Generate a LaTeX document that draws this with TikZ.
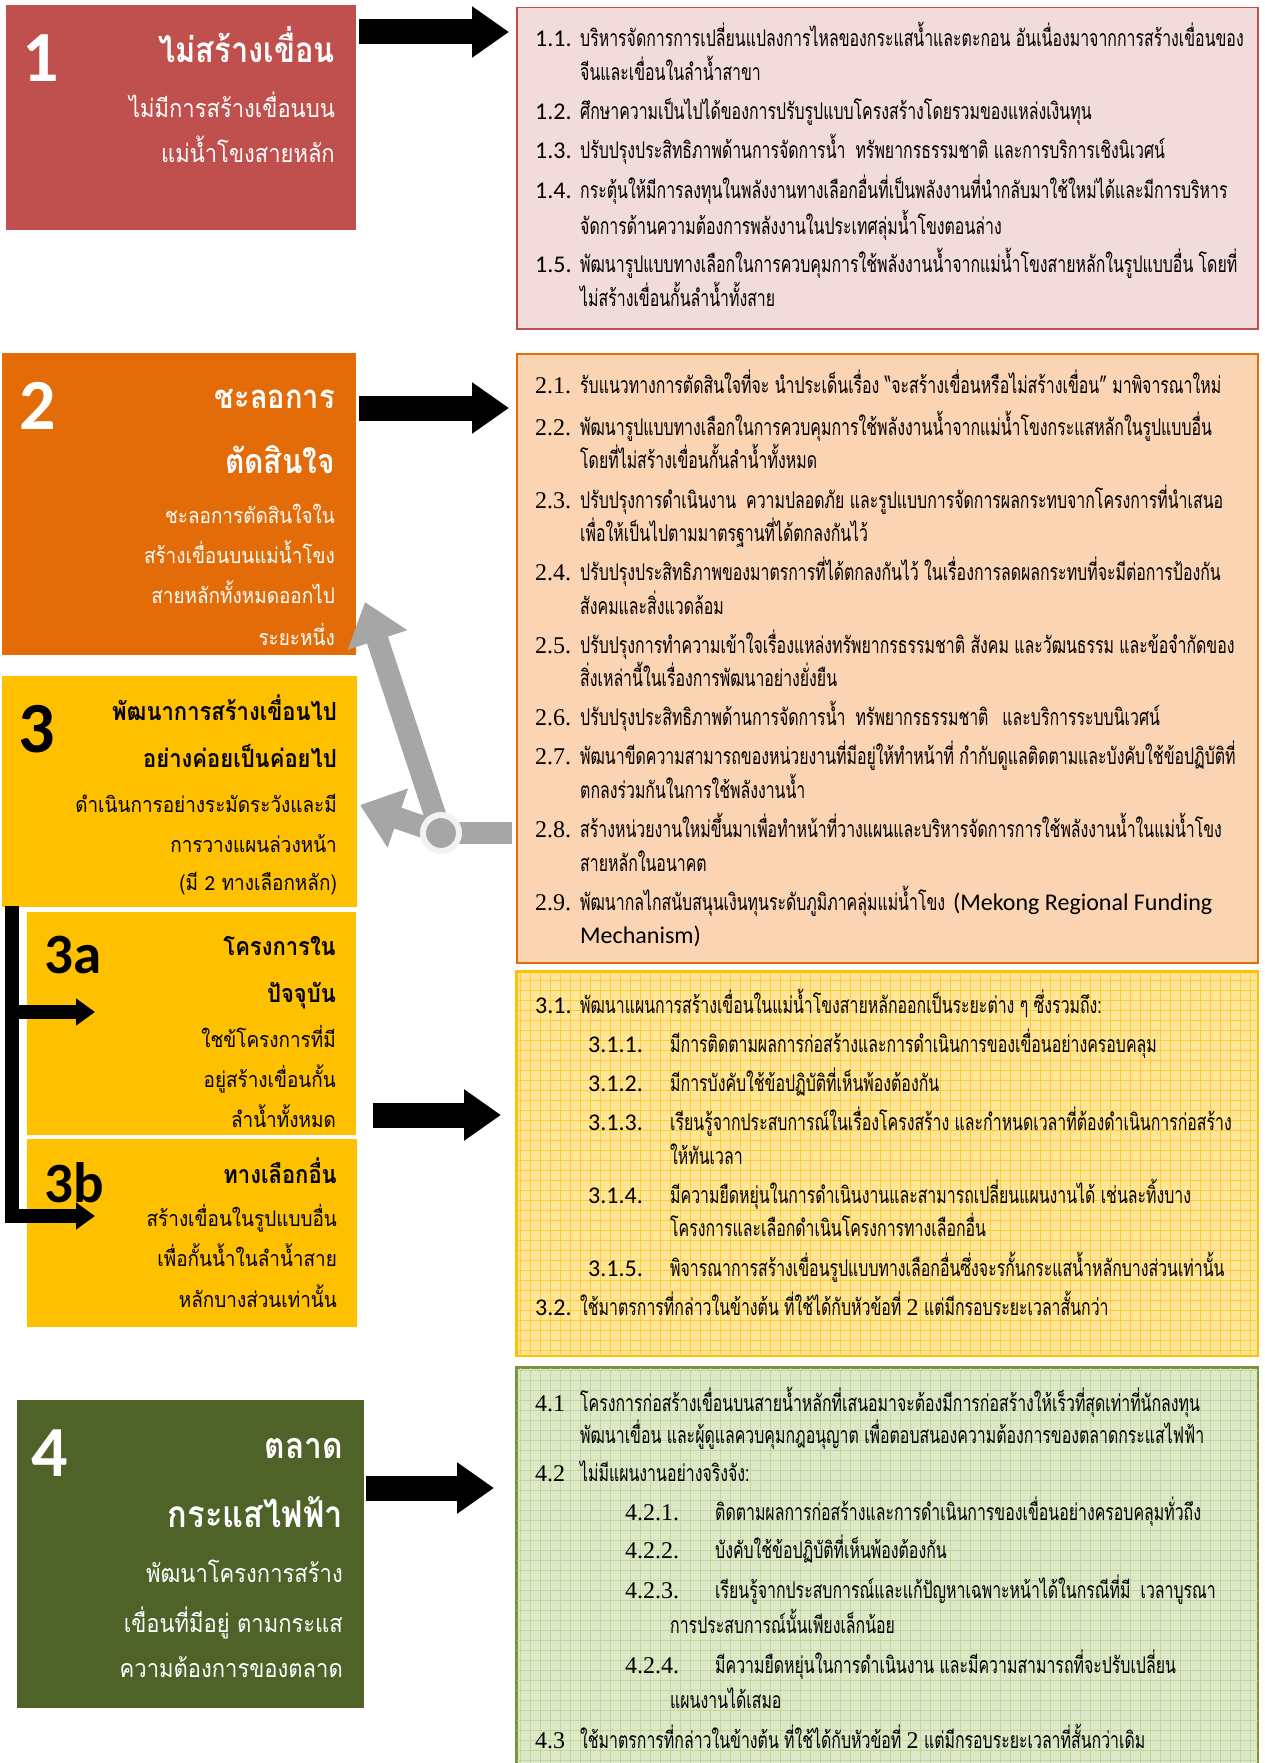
\documentclass[tikz,border=0pt]{standalone}
\usepackage{fontspec}
\usetikzlibrary{arrows.meta}
\newfontfamily\thaiP[Script=Thai,FakeStretch=0.69]{Loma}
\newfontfamily\thaiL[Script=Thai,FakeStretch=0.88]{Loma}
\newfontfamily\calf{Carlito}
\newfontfamily\tmsf{Liberation Serif}
\definecolor{cRed}{HTML}{C0504D}
\definecolor{cRedF}{HTML}{F2DCDB}
\definecolor{cOr}{HTML}{E36C09}
\definecolor{cOrF}{HTML}{FBD4B4}
\definecolor{cYel}{HTML}{FFC000}
\definecolor{cYelF}{HTML}{FFE597}
\definecolor{cYelG}{HTML}{FFCC33}
\definecolor{cGrn}{HTML}{4F6228}
\definecolor{cGrnB}{HTML}{77933C}
\definecolor{cGrnF}{HTML}{DDE8C9}
\definecolor{cGrnG}{HTML}{C2D69A}
\definecolor{cGray}{HTML}{A6A6A6}
\definecolor{cRing}{HTML}{F2F2F2}
\newcounter{lnc}
\newcommand\PLine[4]{\stepcounter{lnc}\node[#1] (t\number\value{lnc}) at (#2,#3) {#4};}
\tikzset{
  lbox/.style={anchor=north west, inner sep=0, draw=none},
  panel/.style={anchor=north west, inner sep=0, line width=1.5pt},
  ptx/.style={inner sep=0, anchor=base west, font=\thaiP\fontsize{23}{26}\selectfont},
  pnc/.style={inner sep=0, anchor=base west, font=\calf\fontsize{24}{26}\selectfont},
  pnt/.style={inner sep=0, anchor=base west, font=\tmsf\fontsize{24}{26}\selectfont},
  bignum/.style={inner sep=0, anchor=base west, font=\calf\bfseries\fontsize{72}{72}\selectfont},
  midnum/.style={inner sep=0, anchor=base west, font=\calf\bfseries\fontsize{57}{57}\selectfont},
  ltitle/.style={inner sep=0, anchor=base east, font=\thaiL\bfseries\fontsize{#1}{#1}\selectfont},
  ltitles/.style={inner sep=0, anchor=base east, font=\thaiL\bfseries\fontsize{25}{28}\selectfont},
  lbody/.style={inner sep=0, anchor=base east, font=\thaiL\fontsize{25}{28}\selectfont},
  lbodys/.style={inner sep=0, anchor=base east, font=\thaiL\fontsize{21.5}{24}\selectfont},
  blk/.style={line width=25pt, black, -{Triangle[length=37pt,width=49pt]}},
  blks/.style={line width=14pt, black, line join=miter, -{Triangle[length=19pt,width=26pt]}},
  garrow/.style={line width=22pt, cGray, -{Triangle[length=40pt,width=60pt]}}
}
\begin{document}
\begin{tikzpicture}[x=1pt,y=-1pt]
\useasboundingbox (0,0) rectangle (1265,1763);
\fill[white] (0,0) rectangle (1265,1763);

% ---------- right panels ----------
\node[panel, draw=cRed, fill=cRedF, minimum width=741pt, minimum height=321pt] (p1) at (516,7) {};
\node[panel, draw=cOr, fill=cOrF, minimum width=741pt, minimum height=609pt] (p2) at (516,353) {};
\node[panel, draw=cYel, fill=cYelF, minimum width=741pt, minimum height=384pt] (p3) at (516,971) {};
\node[panel, draw=cGrnB, fill=cGrnF, minimum width=741pt, minimum height=420pt] (p4) at (516,1367) {};
\begin{scope}
  \clip (p3.north west) rectangle (p3.south east);
  \draw[cYelG, line width=0.6pt, step=10pt] (p3.north west) grid (p3.south east);
\end{scope}
\draw[cYel, line width=1.5pt] (p3.north west) rectangle (p3.south east);
\begin{scope}
  \clip (p4.north west) rectangle (p4.south east);
  \draw[cGrnG, line width=0.6pt, step=10pt] (p4.north west) grid (p4.south east);
\end{scope}
\draw[cGrnB, line width=1.5pt] (p4.north west) rectangle (p4.south east);

% ---------- left boxes ----------
\node[lbox, fill=cRed, minimum width=350pt, minimum height=225pt] (b1) at (6,5) {};
\node[lbox, fill=cOr, minimum width=354pt, minimum height=302pt] (b2) at (2,353) {};
\node[lbox, fill=cYel, minimum width=355pt, minimum height=231pt] (b3) at (2,676) {};
\node[lbox, fill=cYel, minimum width=329pt, minimum height=223pt] (b3a) at (27,912) {};
\node[lbox, fill=cYel, minimum width=330pt, minimum height=188pt] (b3b) at (27,1139) {};
\node[lbox, fill=cGrn, minimum width=347pt, minimum height=308pt] (b4) at (17,1400) {};

% box 1
\PLine{bignum, white}{22}{82}{1}
\PLine{ltitle=35, white}{335}{63}{ไม่สร้างเขื่อน}
\PLine{lbody, white}{335}{118}{ไม่มีการสร้างเขื่อนบน}
\PLine{lbody, white}{335}{163}{แม่น้ำโขงสายหลัก}
% box 2
\PLine{bignum, white}{19}{429}{2}
\PLine{ltitle=33, white}{335}{408}{ชะลอการ}
\PLine{ltitle=34, white}{335}{473}{ตัดสินใจ}
\PLine{lbodys, white}{335}{523}{ชะลอการตัดสินใจใน}
\PLine{lbodys, white}{335}{563}{สร้างเขื่อนบนแม่น้ำโขง}
\PLine{lbodys, white}{335}{603}{สายหลักทั้งหมดออกไป}
\PLine{lbodys, white}{335}{645}{ระยะหนึ่ง}
% box 3
\PLine{bignum}{18}{752}{3}
\PLine{ltitles}{337}{720}{พัฒนาการสร้างเขื่อนไป}
\PLine{ltitles}{337}{767}{อย่างค่อยเป็นค่อยไป}
\PLine{lbodys}{337}{812}{ดำเนินการอย่างระมัดระวังและมี}
\PLine{lbodys}{337}{852}{การวางแผนล่วงหน้า}
\PLine{lbodys}{337}{890}{(มี {\calf 2} ทางเลือกหลัก)}
% box 3a
\PLine{midnum}{44}{973}{3a}
\PLine{ltitles}{336}{955}{โครงการใน}
\PLine{ltitles}{336}{1002}{ปัจจุบัน}
\PLine{lbodys}{336}{1047}{ใชข้โครงการที่มี}
\PLine{lbodys}{336}{1087}{อยู่สร้างเขื่อนกั้น}
\PLine{lbodys}{336}{1127}{ลำน้ำทั้งหมด}
% box 3b
\PLine{midnum}{44}{1202}{3b}
\PLine{ltitles}{337}{1183}{ทางเลือกอื่น}
\PLine{lbodys}{337}{1226}{สร้างเขื่อนในรูปแบบอื่น}
\PLine{lbodys}{337}{1266}{เพื่อกั้นน้ำในลำน้ำสาย}
\PLine{lbodys}{337}{1307}{หลักบางส่วนเท่านั้น}
% box 4
\PLine{bignum, white}{31}{1476}{4}
\PLine{ltitle=36, white}{343}{1458}{ตลาด}
\PLine{ltitle=37, white}{343}{1527}{กระแสไฟฟ้า}
\PLine{lbody, white}{343}{1582}{พัฒนาโครงการสร้าง}
\PLine{lbody, white}{343}{1632}{เขื่อนที่มีอยู่ ตามกระแส}
\PLine{lbody, white}{343}{1677}{ความต้องการของตลาด}

% ---------- panel 1 ----------
\PLine{pnc}{535}{47}{1.1.}
\PLine{ptx}{580}{47}{บริหารจัดการการเปลี่ยนแปลงการไหลของกระแสน้ำและตะกอน อันเนื่องมาจากการสร้างเขื่อนของ}
\PLine{ptx}{580}{81}{จีนและเขื่อนในลำน้ำสาขา}
\PLine{pnc}{535}{120}{1.2.}
\PLine{ptx}{580}{120}{ศึกษาความเป็นไปได้ของการปรับรูปแบบโครงสร้างโดยรวมของแหล่งเงินทุน}
\PLine{pnc}{535}{159}{1.3.}
\PLine{ptx}{580}{159}{ปรับปรุงประสิทธิภาพด้านการจัดการน้ำ\hspace{10pt}ทรัพยากรธรรมชาติ และการบริการเชิงนิเวศน์}
\PLine{pnc}{535}{199}{1.4.}
\PLine{ptx}{580}{199}{กระตุ้นให้มีการลงทุนในพลังงานทางเลือกอื่นที่เป็นพลังงานที่นำกลับมาใช้ใหม่ได้และมีการบริหาร}
\PLine{ptx}{580}{234}{จัดการด้านความต้องการพลังงานในประเทศลุ่มน้ำโขงตอนล่าง}
\PLine{pnc}{535}{272}{1.5.}
\PLine{ptx}{580}{272}{พัฒนารูปแบบทางเลือกในการควบคุมการใช้พลังงานน้ำจากแม่น้ำโขงสายหลักในรูปแบบอื่น โดยที่}
\PLine{ptx}{580}{306}{ไม่สร้างเขื่อนกั้นลำน้ำทั้งสาย}

% ---------- panel 2 ----------
\PLine{pnt}{535}{393}{2.1.}
\PLine{ptx}{580}{393}{รับแนวทางการตัดสินใจที่จะ นำประเด็นเรื่อง “จะสร้างเขื่อนหรือไม่สร้างเขื่อน” มาพิจารณาใหม่}
\PLine{pnt}{535}{435}{2.2.}
\PLine{ptx}{580}{435}{พัฒนารูปแบบทางเลือกในการควบคุมการใช้พลังงานน้ำจากแม่น้ำโขงกระแสหลักในรูปแบบอื่น}
\PLine{ptx}{580}{468}{โดยที่ไม่สร้างเขื่อนกั้นลำน้ำทั้งหมด}
\PLine{pnt}{535}{508}{2.3.}
\PLine{ptx}{580}{508}{ปรับปรุงการดำเนินงาน\hspace{10pt}ความปลอดภัย และรูปแบบการจัดการผลกระทบจากโครงการที่นำเสนอ}
\PLine{ptx}{580}{541}{เพื่อให้เป็นไปตามมาตรฐานที่ได้ตกลงกันไว้}
\PLine{pnt}{535}{580}{2.4.}
\PLine{ptx}{580}{580}{ปรับปรุงประสิทธิภาพของมาตรการที่ได้ตกลงกันไว้ ในเรื่องการลดผลกระทบที่จะมีต่อการป้องกัน}
\PLine{ptx}{580}{614}{สังคมและสิ่งแวดล้อม}
\PLine{pnt}{535}{653}{2.5.}
\PLine{ptx}{580}{653}{ปรับปรุงการทำความเข้าใจเรื่องแหล่งทรัพยากรธรรมชาติ สังคม และวัฒนธรรม และข้อจำกัดของ}
\PLine{ptx}{580}{686}{สิ่งเหล่านี้ในเรื่องการพัฒนาอย่างยั่งยืน}
\PLine{pnt}{535}{725}{2.6.}
\PLine{ptx}{580}{725}{ปรับปรุงประสิทธิภาพด้านการจัดการน้ำ\hspace{10pt}ทรัพยากรธรรมชาติ\hspace{14pt}และบริการระบบนิเวศน์}
\PLine{pnt}{535}{764}{2.7.}
\PLine{ptx}{580}{764}{พัฒนาขีดความสามารถของหน่วยงานที่มีอยู่ให้ทำหน้าที่ กำกับดูแลติดตามและบังคับใช้ข้อปฏิบัติที่}
\PLine{ptx}{580}{798}{ตกลงร่วมกันในการใช้พลังงานน้ำ}
\PLine{pnt}{535}{837}{2.8.}
\PLine{ptx}{580}{837}{สร้างหน่วยงานใหม่ขึ้นมาเพื่อทำหน้าที่วางแผนและบริหารจัดการการใช้พลังงานน้ำในแม่น้ำโขง}
\PLine{ptx}{580}{871}{สายหลักในอนาคต}
\PLine{pnt}{535}{910}{2.9.}
\PLine{ptx}{580}{910}{พัฒนากลไกสนับสนุนเงินทุนระดับภูมิภาคลุ่มแม่น้ำโขง\hspace{8pt}{\calf\fontsize{24}{26}\selectfont (Mekong Regional Funding}}
\PLine{pnc}{580}{943}{Mechanism)}

% ---------- panel 3 ----------
\PLine{pnc}{535}{1013}{3.1.}
\PLine{ptx}{580}{1013}{พัฒนาแผนการสร้างเขื่อนในแม่น้ำโขงสายหลักออกเป็นระยะต่าง ๆ ซึ่งรวมถึง:}
\PLine{pnc}{588}{1052}{3.1.1.}
\PLine{ptx}{670}{1052}{มีการติดตามผลการก่อสร้างและการดำเนินการของเขื่อนอย่างครอบคลุม}
\PLine{pnc}{588}{1091}{3.1.2.}
\PLine{ptx}{670}{1091}{มีการบังคับใช้ข้อปฏิบัติที่เห็นพ้องต้องกัน}
\PLine{pnc}{588}{1130}{3.1.3.}
\PLine{ptx}{670}{1130}{เรียนรู้จากประสบการณ์ในเรื่องโครงสร้าง และกำหนดเวลาที่ต้องดำเนินการก่อสร้าง}
\PLine{ptx}{670}{1164}{ให้ทันเวลา}
\PLine{pnc}{588}{1203}{3.1.4.}
\PLine{ptx}{670}{1203}{มีความยืดหยุ่นในการดำเนินงานและสามารถเปลี่ยนแผนงานได้ เช่นละทิ้งบาง}
\PLine{ptx}{670}{1236}{โครงการและเลือกดำเนินโครงการทางเลือกอื่น}
\PLine{pnc}{588}{1276}{3.1.5.}
\PLine{ptx}{670}{1276}{พิจารณาการสร้างเขื่อนรูปแบบทางเลือกอื่นซึ่งจะรกั้นกระแสน้ำหลักบางส่วนเท่านั้น}
\PLine{pnc}{535}{1315}{3.2.}
\PLine{ptx}{580}{1315}{ใช้มาตรการที่กล่าวในข้างต้น ที่ใช้ได้กับหัวข้อที่ {\tmsf\fontsize{24}{26}\selectfont 2} แต่มีกรอบระยะเวลาสั้นกว่า}

% ---------- panel 4 ----------
\PLine{pnt}{535}{1411}{4.1}
\PLine{ptx}{580}{1411}{โครงการก่อสร้างเขื่อนบนสายน้ำหลักที่เสนอมาจะต้องมีการก่อสร้างให้เร็วที่สุดเท่าที่นักลงทุน}
\PLine{ptx}{580}{1443}{พัฒนาเขื่อน และผู้ดูแลควบคุมกฎอนุญาต เพื่อตอบสนองความต้องการของตลาดกระแสไฟฟ้า}
\PLine{pnt}{535}{1481}{4.2}
\PLine{ptx}{580}{1481}{ไม่มีแผนงานอย่างจริงจัง:}
\PLine{pnt}{625}{1520}{4.2.1.}
\PLine{ptx}{715}{1520}{ติดตามผลการก่อสร้างและการดำเนินการของเขื่อนอย่างครอบคลุมทั่วถึง}
\PLine{pnt}{625}{1558}{4.2.2.}
\PLine{ptx}{715}{1558}{บังคับใช้ข้อปฏิบัติที่เห็นพ้องต้องกัน}
\PLine{pnt}{625}{1598}{4.2.3.}
\PLine{ptx}{715}{1598}{เรียนรู้จากประสบการณ์และแก้ปัญหาเฉพาะหน้าได้ในกรณีที่มี\hspace{10pt}เวลาบูรณา}
\PLine{ptx}{670}{1633}{การประสบการณ์นั้นเพียงเล็กน้อย}
\PLine{pnt}{625}{1673}{4.2.4.}
\PLine{ptx}{715}{1673}{มีความยืดหยุ่นในการดำเนินงาน และมีความสามารถที่จะปรับเปลี่ยน}
\PLine{ptx}{670}{1708}{แผนงานได้เสมอ}
\PLine{pnt}{535}{1748}{4.3}
\PLine{ptx}{580}{1748}{ใช้มาตรการที่กล่าวในข้างต้น ที่ใช้ได้กับหัวข้อที่ {\tmsf\fontsize{24}{26}\selectfont 2} แต่มีกรอบระยะเวลาที่สั้นกว่าเดิม}

% ---------- black block arrows ----------
\draw[blk, shorten <=3pt, shorten >=7pt] (b1.east |- 0,32) -- (p1.west |- 0,32);
\draw[blk, shorten <=3pt, shorten >=7pt] (b2.east |- 0,408) -- (p2.west |- 0,408);
\draw[blk, shorten <=17pt, shorten >=15pt] (b3a.east |- 0,1115) -- (p3.west |- 0,1115);
\draw[blk, shorten <=2pt, shorten >=22pt] (b4.east |- 0,1488) -- (p4.west |- 0,1488);

% ---------- bracket to 3a / 3b ----------
\coordinate (brtop) at (12,906);
\coordinate (brcorner) at (12,1216);
\coordinate (tipA) at (95,1012);
\coordinate (tipB) at (95,1216);
\draw[blks] (brtop) -- (brcorner) -- (tipB);
\draw[blks] (brtop |- tipA) -- (tipA);

% ---------- gray arrows ----------
\coordinate (hub) at (441,833);
\coordinate (g2) at (365,602);
\coordinate (g3) at (360,805);
\draw[line width=22pt, cGray, shorten >=4pt] (hub) -- (p2.west |- hub);
\draw[garrow] (hub) -- (g2);
\draw[garrow] (hub) -- (g3);
\fill[cGray] (hub) circle[radius=16pt];
\draw[cRing, line width=6pt] (hub) circle[radius=18pt];
\end{tikzpicture}
\end{document}
